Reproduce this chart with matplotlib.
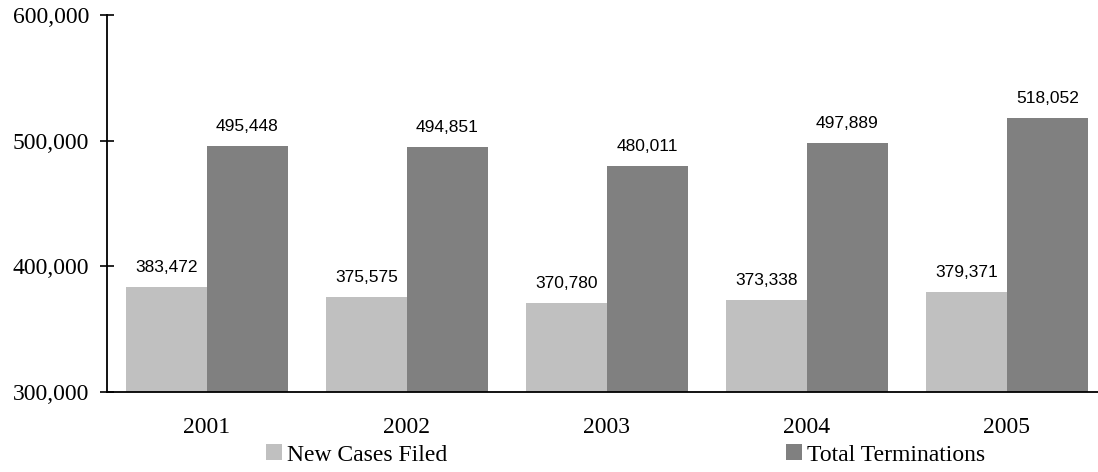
import numpy as np
import matplotlib.pyplot as plt

years = ['2001', '2002', '2003', '2004', '2005']
new_cases = [383472, 375575, 370780, 373338, 379371]
terminations = [495448, 494851, 480011, 497889, 518052]

serif = ['Liberation Serif', 'DejaVu Serif']

fig = plt.figure(figsize=(10.98, 4.72), dpi=100)
ax = fig.add_axes([107 / 1098, 1 - 392 / 472, 1 - 107 / 1098, (392 - 15) / 472])

x = np.arange(len(years))
w = 0.405
b1 = ax.bar(x - w / 2, new_cases, w, color='#c0c0c0', label='New Cases Filed')
b2 = ax.bar(x + w / 2, terminations, w, color='#808080', label='Total Terminations')

# value labels above each bar
for bars, vals in ((b1, new_cases), (b2, terminations)):
    for r, v in zip(bars, vals):
        ax.annotate(f'{v:,}', (r.get_x() + r.get_width() / 2, v),
                    xytext=(0, 15), textcoords='offset pixels',
                    ha='center', va='baseline', fontsize=12.5,
                    family=['Liberation Sans', 'DejaVu Sans'])

ax.set_ylim(300000, 600000)
ax.set_xlim(-0.5, 4.455)
yt = [300000, 400000, 500000, 600000]
ax.set_yticks(yt)
ax.set_yticklabels([f'{t:,}' for t in yt], family=serif, fontsize=17)
ax.set_xticks(x)
ax.set_xticklabels(years, family=serif, fontsize=17)
ax.tick_params(axis='y', direction='inout', length=9.4, width=1.2, pad=8.3)
ax.tick_params(axis='x', length=0, pad=18)

for s in ['top', 'right']:
    ax.spines[s].set_visible(False)
for s in ['left', 'bottom']:
    ax.spines[s].set_linewidth(1.3)

fig.legend(loc='center', bbox_to_anchor=(626 / 1098, 1 - 455 / 472), ncol=2,
           frameon=False, prop={'family': serif, 'size': 17},
           handlelength=0.64, handleheight=0.64, handletextpad=0.25,
           columnspacing=14.35, borderpad=0)

fig.savefig('out.png', dpi=100)
